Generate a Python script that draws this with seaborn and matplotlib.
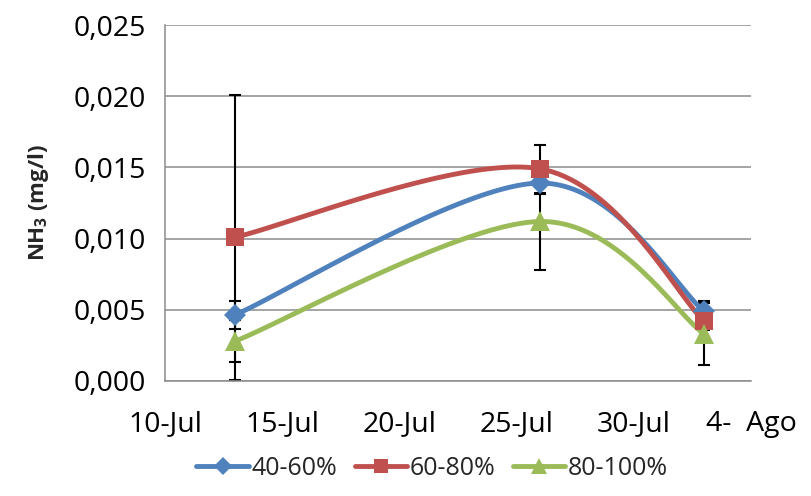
import numpy as np
import matplotlib.pyplot as plt
import seaborn as sns
from matplotlib.lines import Line2D
from matplotlib.ticker import FuncFormatter

# -----------------------------------------
#  Data (days counted from 10-Jul)
# -----------------------------------------

DAYS = [3, 16, 23]
SERIES = ["40-60%", "60-80%", "80-100%"]

NH3_40_60 = [0.00465, 0.0139, 0.0049]
NH3_60_80 = [0.0101, 0.0149, 0.0042]
NH3_80_100 = [0.0028, 0.0112, 0.0033]

ERR_40_60 = [0.00097, 0.0008, 0.0007]
ERR_60_80 = [0.0100, 0.0017, 0.0006]
ERR_80_100 = [0.00145, 0.0034, 0.0022]

XTICK_DAYS = [0, 5, 10, 15, 20, 25]
XTICK_LABELS = ["10-Jul", "15-Jul", "20-Jul", "25-Jul", "30-Jul", "4-  Ago"]

COLORS = ["#4F81BD", "#C0504D", "#9BBB59"]
MARKERS = ["D", "s", "^"]
MSIZES = [11, 13, 14]


def smooth(x, y, n=60):
    # Excel-like smoothed line: Catmull-Rom style cubic Bezier segments
    p = np.column_stack([x, y]).astype(float)
    p_ext = np.vstack([p[0], p, p[-1]])
    t = np.linspace(0, 1, n)[:, None]
    out = []
    for i in range(len(p) - 1):
        p0, p1 = p_ext[i + 1], p_ext[i + 2]
        c1 = p0 + (p_ext[i + 2] - p_ext[i]) / 6
        c2 = p1 - (p_ext[i + 3] - p_ext[i + 1]) / 6
        seg = ((1 - t) ** 3) * p0 + 3 * ((1 - t) ** 2) * t * c1 \
            + 3 * (1 - t) * t ** 2 * c2 + t ** 3 * p1
        out.append(seg)
    out = np.vstack(out)
    return out[:, 0], out[:, 1]


sns.set_theme(style="white")
plt.rcParams["font.family"] = ["Open Sans", "DejaVu Sans"]
plt.rcParams["mathtext.default"] = "regular"

fig = plt.figure(figsize=(8.11, 4.96), dpi=100)
ax = fig.add_axes([0.2035, 0.232, 0.7225, 0.7175])

values = [NH3_40_60, NH3_60_80, NH3_80_100]
errors = [ERR_40_60, ERR_60_80, ERR_80_100]

for vals, errs in zip(values, errors):
    ax.errorbar(DAYS, vals, yerr=errs, fmt="none", ecolor="black",
                elinewidth=1.5, capsize=4.5, capthick=1.5, zorder=2)

for vals, color, marker, ms in zip(values, COLORS, MARKERS, MSIZES):
    xs, ys = smooth(DAYS, vals)
    sns.lineplot(x=xs, y=ys, ax=ax, color=color, linewidth=3.5,
                 sort=False, estimator=None, zorder=3)
    ax.plot(DAYS, vals, linestyle="none", marker=marker, markersize=ms,
            color=color, markeredgewidth=0, zorder=4)

ax.set_xlim(0, 25)
ax.set_ylim(0, 0.025)
ax.set_xticks(XTICK_DAYS)
ax.set_xticklabels(XTICK_LABELS)
ax.set_yticks(np.arange(0, 0.0251, 0.005))
ax.yaxis.set_major_formatter(FuncFormatter(lambda v, _: f"{v:.3f}".replace(".", ",")))

ax.yaxis.grid(True, color="#8c8c8c", linewidth=1.1)
ax.set_axisbelow(True)
for side in ["top", "right"]:
    ax.spines[side].set_visible(False)
for side in ["left", "bottom"]:
    ax.spines[side].set_color("#8c8c8c")
    ax.spines[side].set_linewidth(1.1)

ax.tick_params(axis="both", which="major", direction="out", length=7,
               width=1.1, color="#8c8c8c", labelsize=20.5, labelcolor="black")
ax.tick_params(axis="x", pad=14)
ax.tick_params(axis="y", pad=7)

ax.set_ylabel(r"NH$_3$ (mg/l)", fontsize=16, fontweight="bold", labelpad=16)
ax.set_xlabel("")

handles = [Line2D([0], [0], color=c, linewidth=3.5, marker=m, markersize=s * 0.8,
                  markeredgewidth=0)
           for c, m, s in zip(COLORS, MARKERS, MSIZES)]
fig.legend(handles, SERIES, loc="center", bbox_to_anchor=(0.533, 0.055), ncol=3,
           frameon=False, fontsize=18, handlelength=2.1, handletextpad=0.1,
           columnspacing=0.7)

fig.savefig("out.png", dpi=100)
